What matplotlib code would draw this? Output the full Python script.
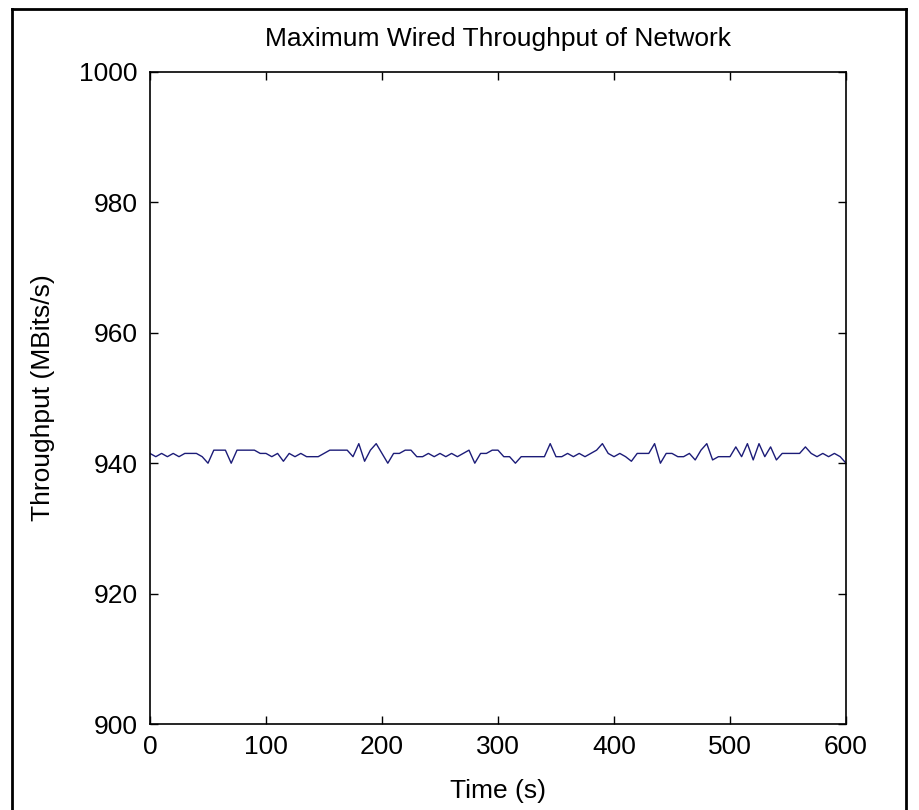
import matplotlib
matplotlib.use("Agg")
import matplotlib.pyplot as plt
from matplotlib.lines import Line2D

# Temps (s), un point toutes les 5 s
temps = list(range(0, 605, 5))

debit = [
    941.5, 941, 941.5, 941, 941.5, 941, 941.5, 941.5, 941.5, 941,
    940, 942, 942, 942, 940, 942, 942, 942, 942, 941.5,
    941.5, 941, 941.5, 940.3, 941.5, 941, 941.5, 941, 941, 941,
    941.5, 942, 942, 942, 942, 941, 943, 940.3, 942, 943,
    941.5, 940, 941.5, 941.5, 942, 942, 941, 941, 941.5, 941,
    941.5, 941, 941.5, 941, 941.5, 942, 940, 941.5, 941.5, 942,
    942, 941, 941, 940, 941, 941, 941, 941, 941, 943,
    941, 941, 941.5, 941, 941.5, 941, 941.5, 942, 943, 941.5,
    941, 941.5, 941, 940.3, 941.5, 941.5, 941.5, 943, 940, 941.5,
    941.5, 941, 941, 941.5, 940.5, 942, 943, 940.5, 941, 941,
    941, 942.5, 941, 943, 940.5, 943, 941, 942.5, 940.5, 941.5,
    941.5, 941.5, 941.5, 942.5, 941.5, 941, 941.5, 941, 941.5, 941,
    940,
]

xticks = [0, 100, 200, 300, 400, 500, 600]
yticks = [900, 920, 940, 960, 980, 1000]

plt.rcParams['font.family'] = ['Liberation Sans', 'DejaVu Sans']

fig = plt.figure(figsize=(9.2, 8.1), dpi=100)
ax = fig.add_axes([150 / 920, 1 - 724 / 810, 696 / 920, 652 / 810])

ax.plot(temps, debit, color='#1c1c78', linewidth=1.0)

ax.set_xlim(0, 600)
ax.set_ylim(900, 1000)
ax.set_xticks(xticks)
ax.set_yticks(yticks)
ax.tick_params(direction='in', length=6, width=1, top=True, right=True,
               labelsize=19, colors='black')
ax.tick_params(axis='y', pad=9)
ax.tick_params(axis='x', pad=8)
for s in ax.spines.values():
    s.set_linewidth(1.2)

ax.set_title("Maximum Wired Throughput of Network", fontsize=19, pad=19)
ax.set_xlabel("Time (s)", fontsize=19, labelpad=14)
ax.set_ylabel("Throughput (MBits/s)", fontsize=19, labelpad=17)

# cadre extérieur de la figure
x0, x1, y1 = 12 / 920, 906 / 920, 1 - 9 / 810
fig.add_artist(Line2D([x0, x0], [0, y1], color='black', linewidth=2, transform=fig.transFigure))
fig.add_artist(Line2D([x0, x1], [y1, y1], color='black', linewidth=2, transform=fig.transFigure))
fig.add_artist(Line2D([x1, x1], [0, y1], color='black', linewidth=2, transform=fig.transFigure))

fig.savefig("out.png", dpi=100)
